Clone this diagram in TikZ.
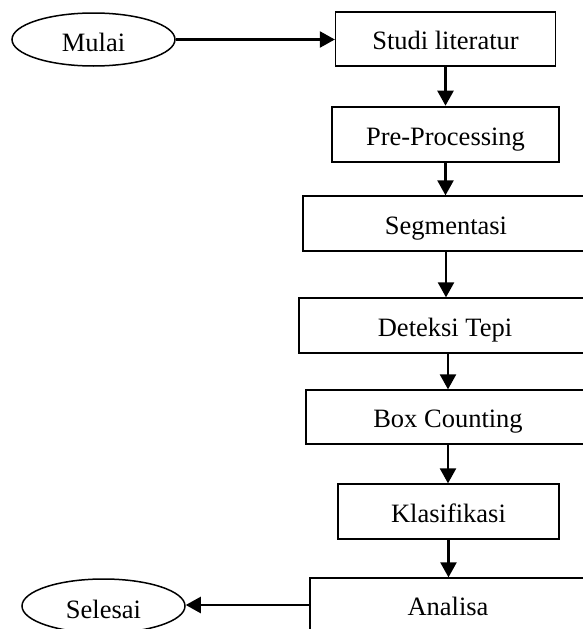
\documentclass[tikz,border=0pt]{standalone}
\usepackage{fontspec}
\setmainfont{Liberation Serif}
\usetikzlibrary{arrows.meta,shapes.geometric}
\begin{document}
\begin{tikzpicture}[x=1pt,y=-1pt,
  every node/.style={font=\fontsize{26.5}{32}\selectfont},
  stepbox/.style={draw,line width=1.3pt,rectangle,inner sep=0pt,text height=21pt,text depth=0pt},
  boldbox/.style={stepbox,line width=2.6pt},
  term/.style={draw,line width=1.5pt,ellipse,inner sep=0pt,text height=24pt,text depth=0pt},
  flow/.style={line width=2.3pt,-{Triangle[length=15pt,width=16pt]}}]
\useasboundingbox (0,0) rectangle (582,629);
\node[term,minimum width=163pt,minimum height=53pt] (mulai) at (93.5,39.5) {Mulai};
\node[stepbox,minimum width=220pt,minimum height=54pt] (studi) at (445.5,39) {Studi literatur};
\node[boldbox,minimum width=227pt,minimum height=55pt] (pre) at (445.5,134.5) {Pre-Processing};
\node[stepbox,minimum width=286pt,minimum height=55pt] (seg) at (446,223.5) {Segmentasi};
\node[stepbox,minimum width=292pt,minimum height=55pt] (det) at (445,325.5) {Deteksi Tepi};
\node[stepbox,minimum width=284pt,minimum height=54pt] (box) at (448,417) {Box Counting};
\node[stepbox,minimum width=221pt,minimum height=55pt] (kla) at (448.5,511.5) {Klasifikasi};
\node[stepbox,minimum width=276pt,minimum height=54pt] (ana) at (448,605) {Analisa};
\node[term,minimum width=163pt,minimum height=54pt] (sel) at (103.5,606) {Selesai};
\draw[flow] (mulai.east) -- (mulai.east -| studi.west);
\draw[flow] (studi.south) -- (studi.south |- pre.north);
\draw[flow] (pre.south) -- (pre.south |- seg.north);
\draw[flow] (seg.south) -- (seg.south |- det.north);
\draw[flow] (box.north |- det.south) -- (box.north);
\draw[flow] (box.south) -- (box.south |- kla.north);
\draw[flow] (kla.south) -- (kla.south |- ana.north);
\draw[flow] (ana.west) -- (ana.west -| sel.east);
\end{tikzpicture}
\end{document}
